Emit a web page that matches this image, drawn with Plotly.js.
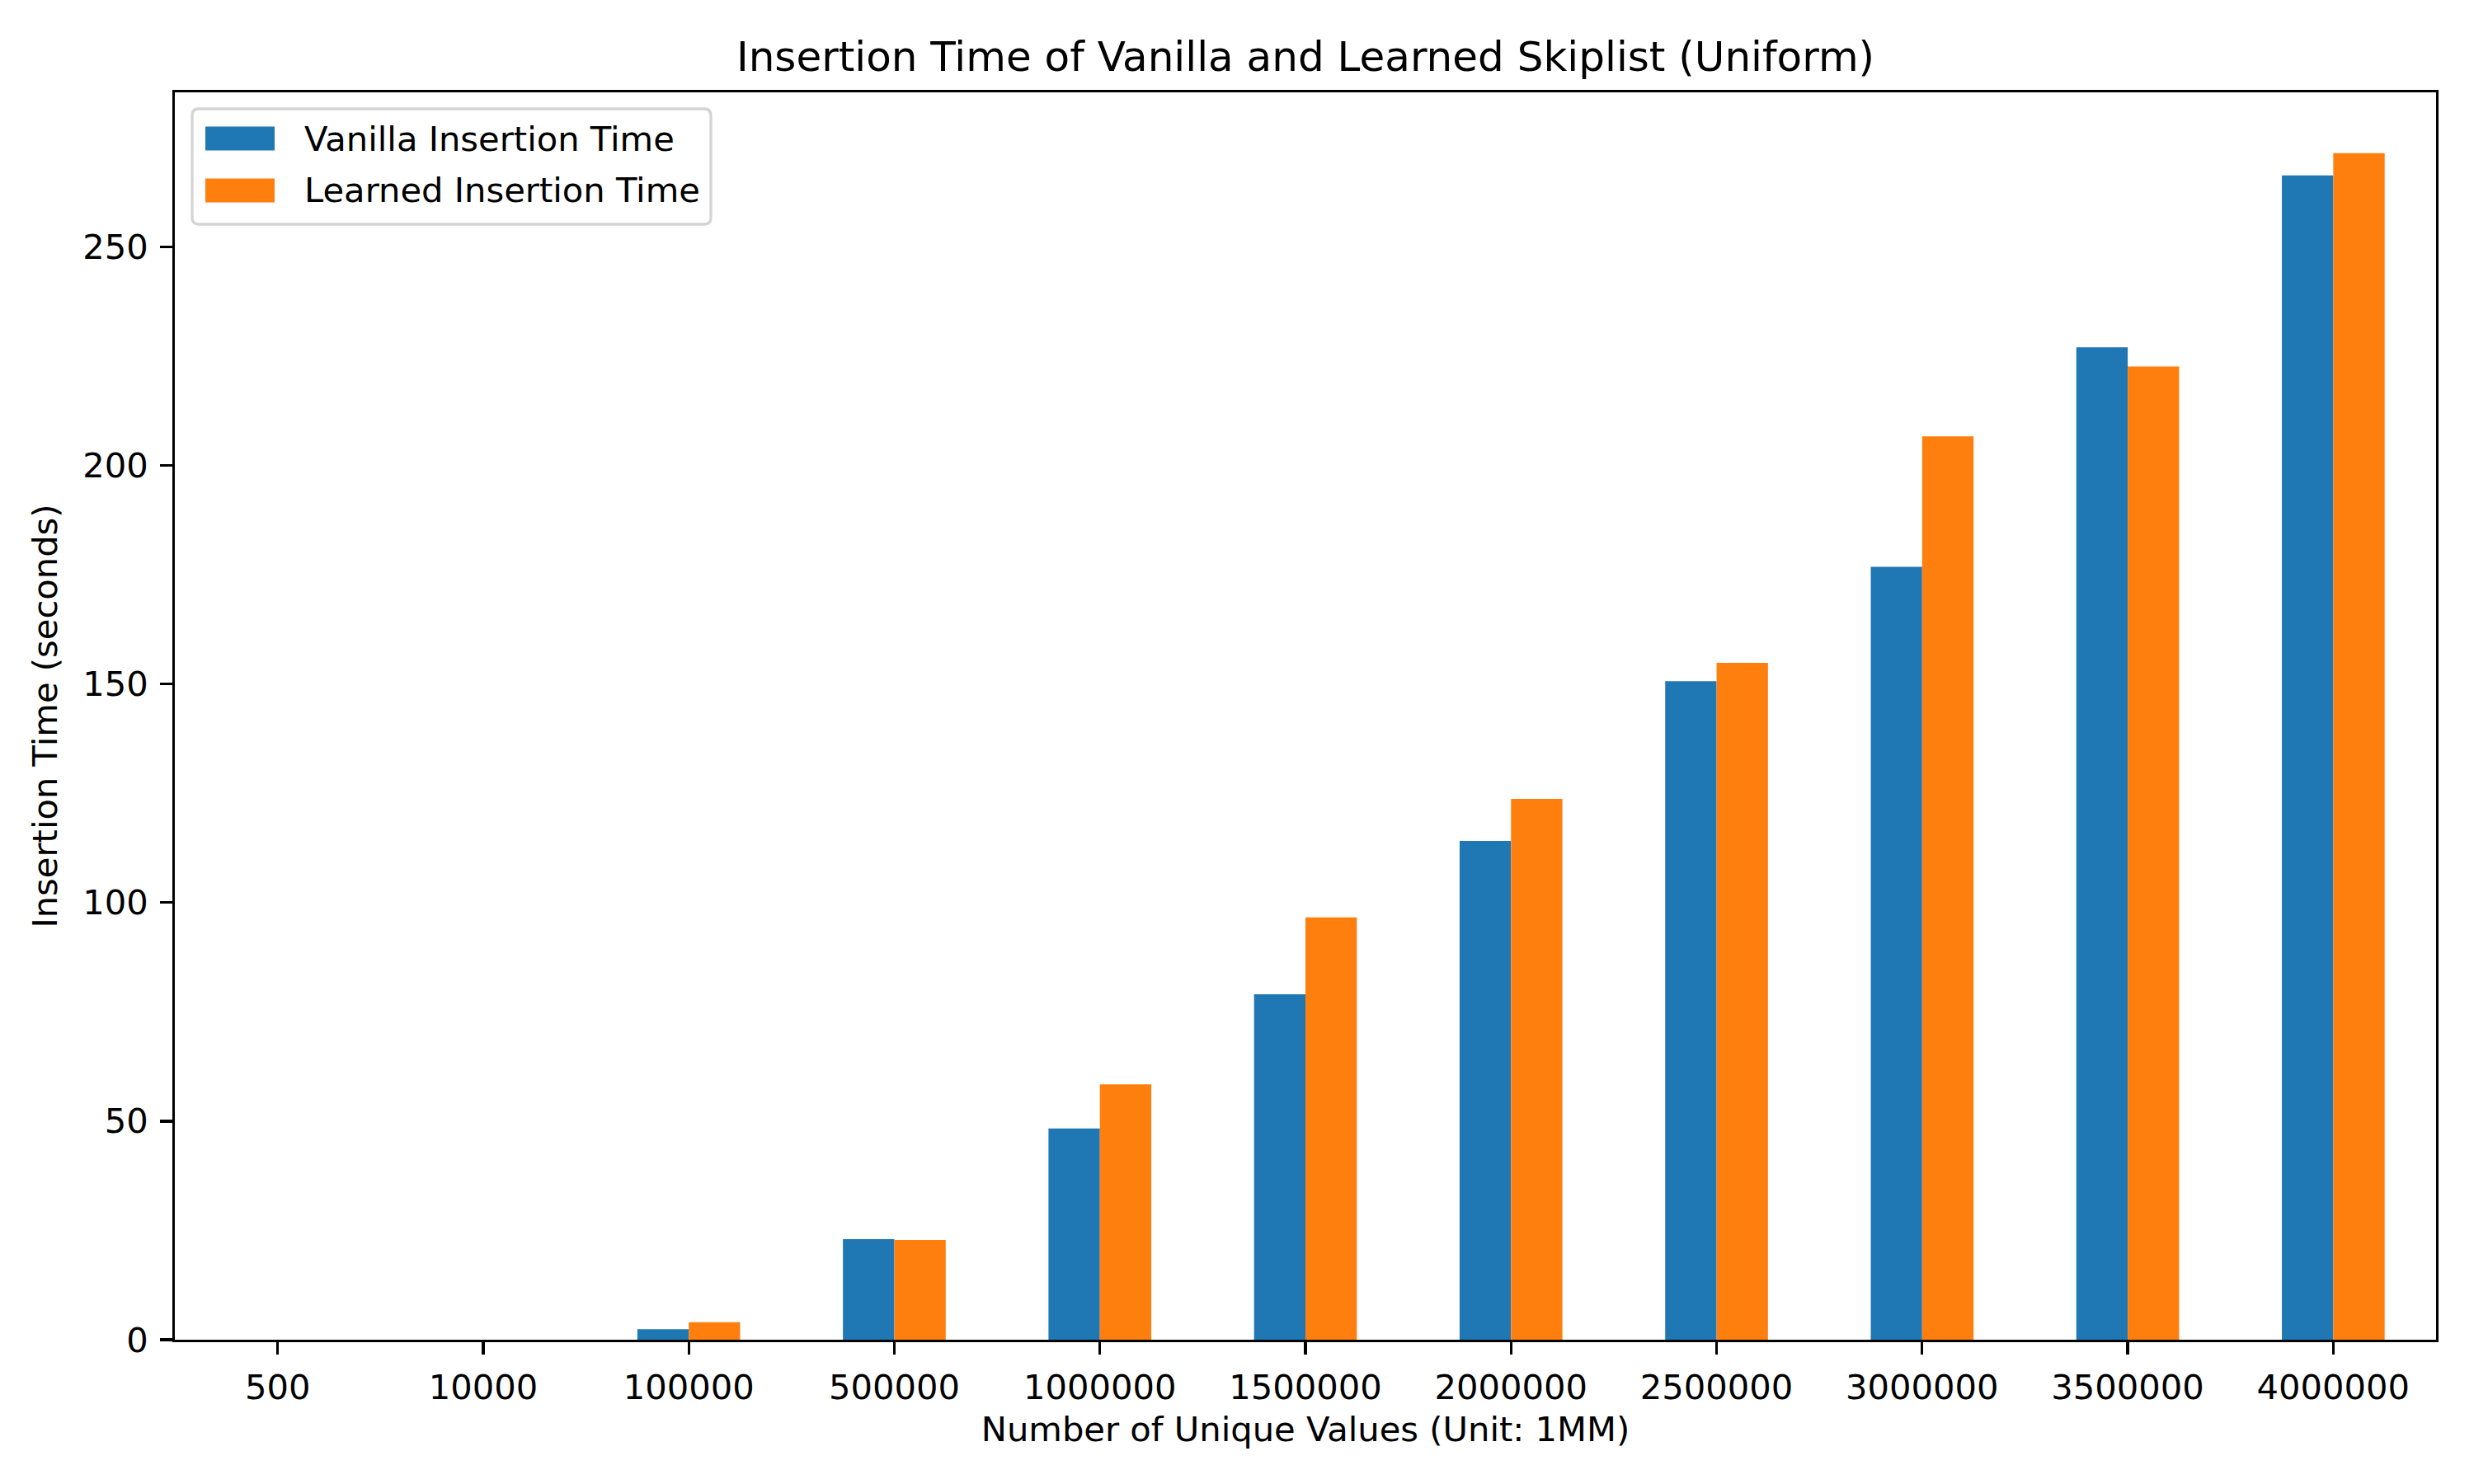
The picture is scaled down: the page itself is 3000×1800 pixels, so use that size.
<!DOCTYPE html>
<html>
<head>
<meta charset="utf-8">
<script src="https://cdn.plot.ly/plotly-3.0.1.min.js"></script>
<style>
  html, body { margin: 0; padding: 0; background: #ffffff; }
  #chart { width: 3000px; height: 1800px; }
</style>
</head>
<body>
<div id="chart"></div>
<script>
// dataset sizes on the x axis (shown as categories)
const uniqueValues = ["500", "10000", "100000", "500000", "1000000", "1500000",
  "2000000", "2500000", "3000000", "3500000", "4000000"];

// seconds
const vanillaTime = [0, 0, 2.4, 23.0, 48.3, 79.0, 114.1, 150.6, 176.8, 227.0, 266.3];
const learnedTime = [0, 0, 4.0, 22.8, 58.4, 96.6, 123.7, 154.8, 206.6, 222.6, 271.4];

const seriesNames = ["Vanilla Insertion Time", "Learned Insertion Time"];
const seriesColors = ["#1f77b4", "#ff7f0e"];

const yTicks = [0, 50, 100, 150, 200, 250];

const FONT = "\"DejaVu Sans\", Verdana, sans-serif";
const PX = 300 / 72; // matplotlib points -> pixels at 300 dpi

const W = 3000, H = 1800;
const M = { l: 212, r: 46, t: 112, b: 175 };
const plotW = W - M.l - M.r;
const plotH = H - M.t - M.b;

// figure pixels -> paper coords (for the hand-drawn legend)
const px2x = (px) => (px - M.l) / plotW;
const px2y = (py) => (H - M.b - py) / plotH;

const axisCommon = {
  showline: true,
  linecolor: "#000000",
  linewidth: 0.8 * PX,
  mirror: true,
  ticks: "outside",
  ticklen: 3.5 * PX,
  tickwidth: 0.8 * PX,
  tickcolor: "#000000",
  showgrid: false,
  zeroline: false,
  fixedrange: true,
  tickfont: { family: FONT, size: 10 * PX, color: "#000000" },
};

const traces = [
  {
    type: "bar",
    name: seriesNames[0],
    x: uniqueValues,
    y: vanillaTime,
    marker: { color: seriesColors[0], line: { width: 0 } },
  },
  {
    type: "bar",
    name: seriesNames[1],
    x: uniqueValues,
    y: learnedTime,
    marker: { color: seriesColors[1], line: { width: 0 } },
  },
];

// matplotlib-style legend: rounded frame, wide patches
function roundedRect(x0, y0, x1, y1, r) {
  const X = px2x, Y = px2y;
  return [
    `M ${X(x0 + r)} ${Y(y0)}`,
    `L ${X(x1 - r)} ${Y(y0)}`,
    `Q ${X(x1)} ${Y(y0)} ${X(x1)} ${Y(y0 + r)}`,
    `L ${X(x1)} ${Y(y1 - r)}`,
    `Q ${X(x1)} ${Y(y1)} ${X(x1 - r)} ${Y(y1)}`,
    `L ${X(x0 + r)} ${Y(y1)}`,
    `Q ${X(x0)} ${Y(y1)} ${X(x0)} ${Y(y1 - r)}`,
    `L ${X(x0)} ${Y(y0 + r)}`,
    `Q ${X(x0)} ${Y(y0)} ${X(x0 + r)} ${Y(y0)}`,
    "Z",
  ].join(" ");
}

const legendShapes = [
  {
    type: "path",
    xref: "paper",
    yref: "paper",
    path: roundedRect(233, 132, 862, 272, 8),
    fillcolor: "rgba(255,255,255,0.8)",
    line: { color: "#d4d4d4", width: 0.8 * PX },
    layer: "above",
  },
];
const legendAnnotations = [];
const rowCenters = [168, 231];
seriesNames.forEach((name, i) => {
  const cy = rowCenters[i];
  legendShapes.push({
    type: "rect",
    xref: "paper",
    yref: "paper",
    x0: px2x(249),
    x1: px2x(333),
    y0: px2y(cy - 14.5),
    y1: px2y(cy + 14.5),
    fillcolor: seriesColors[i],
    line: { width: 0 },
    layer: "above",
  });
  legendAnnotations.push({
    xref: "paper",
    yref: "paper",
    x: px2x(367),
    y: px2y(cy),
    xanchor: "left",
    yanchor: "middle",
    showarrow: false,
    text: name,
    font: { family: FONT, size: 10 * PX, color: "#000000" },
  });
});

const layout = {
  width: W,
  height: H,
  paper_bgcolor: "#ffffff",
  plot_bgcolor: "#ffffff",
  font: { family: FONT, color: "#000000", size: 10 * PX },
  margin: { l: M.l, r: M.r, t: M.t, b: M.b, pad: 0 },
  barmode: "group",
  bargap: 0.5,
  bargroupgap: 0,
  showlegend: false,
  hovermode: false,
  title: {
    text: "Insertion Time of Vanilla and Learned Skiplist (Uniform)",
    font: { family: FONT, size: 12 * PX, color: "#000000" },
    xref: "paper",
    x: 0.5,
    xanchor: "center",
    yref: "container",
    y: 1 - 68 / H,
    yanchor: "middle",
  },
  shapes: legendShapes,
  annotations: legendAnnotations,
  xaxis: {
    ...axisCommon,
    type: "category",
    range: [-0.5, 10.5],
    ticklabelstandoff: 4,
    title: {
      text: "Number of Unique Values (Unit: 1MM)",
      font: { family: FONT, size: 10 * PX, color: "#000000" },
      standoff: 14,
    },
  },
  yaxis: {
    ...axisCommon,
    range: [0, 285.3],
    tickmode: "array",
    tickvals: yTicks,
    ticktext: yTicks.map(String),
    ticklabelstandoff: 6,
    title: {
      text: "Insertion Time (seconds)",
      font: { family: FONT, size: 10 * PX, color: "#000000" },
      standoff: 18,
    },
  },
};

Plotly.newPlot("chart", traces, layout, { displayModeBar: false, staticPlot: true });
</script>
</body>
</html>
